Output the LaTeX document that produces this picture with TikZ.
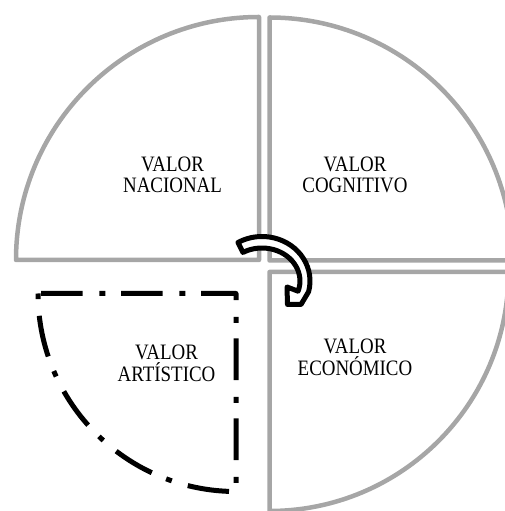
\documentclass[tikz,border=0pt]{standalone}
\usepackage{fontspec}
\setmainfont{Liberation Serif}[FakeStretch=0.86]
\definecolor{qgray}{RGB}{166,166,166}
\tikzset{
  quad/.style={draw=qgray, line width=4.5pt, line join=round},
  ddash/.style={draw=black, line width=5pt, line join=round,
    dash pattern=on 41.7pt off 16.7pt on 6pt off 15.6pt, dash phase=77pt},
  turn/.style={draw=black, fill=white, line width=5pt, line join=round},
  lab/.style={font=\fontsize{22}{22}\selectfont, inner sep=0pt, anchor=base, text=black}
}
\begin{document}
\begin{tikzpicture}[x=1pt,y=1pt]
\useasboundingbox (0,0) rectangle (505,511);
\clip (0,0) rectangle (505,511);
% gray quadrants
\draw[quad] (259,251) -- (16,251) arc[start angle=180,end angle=90,radius=243] -- cycle;
\draw[quad] (269.5,250.5) -- (269.5,493.5) arc[start angle=90,end angle=0,radius=243] -- cycle;
\draw[quad] (269.5,239) -- (508.5,239) arc[start angle=0,end angle=-90,radius=239] -- cycle;
% dash-dot quadrant
\draw[ddash] (38,217.5) -- (236,217.5) -- (236,19.5) arc[start angle=270,end angle=180,radius=198];
% curved arrow
\draw[turn] (238,268.54) arc[start angle=120,end angle=-14,x radius=48,y radius=44.5]
  -- (301,206.5) -- (287.5,206.5) -- (287,224) -- (298.1,219.8)
  arc[start angle=-18,end angle=120,x radius=38,y radius=33] -- cycle;
% labels
\node[lab] (nac1) at (172.5,339.5) {VALOR};
\node[lab] (nac2) at (172.5,318) {NACIONAL};
\node[lab] (cog1) at (355,339.5) {VALOR};
\node[lab] (cog2) at (355,318) {COGNITIVO};
\node[lab] (eco1) at (355,157) {VALOR};
\node[lab] (eco2) at (355,135) {ECONÓMICO};
\node[lab] (art1) at (166.5,151) {VALOR};
\node[lab] (art2) at (166.5,129.3) {ARTÍSTICO};
\end{tikzpicture}
\end{document}
